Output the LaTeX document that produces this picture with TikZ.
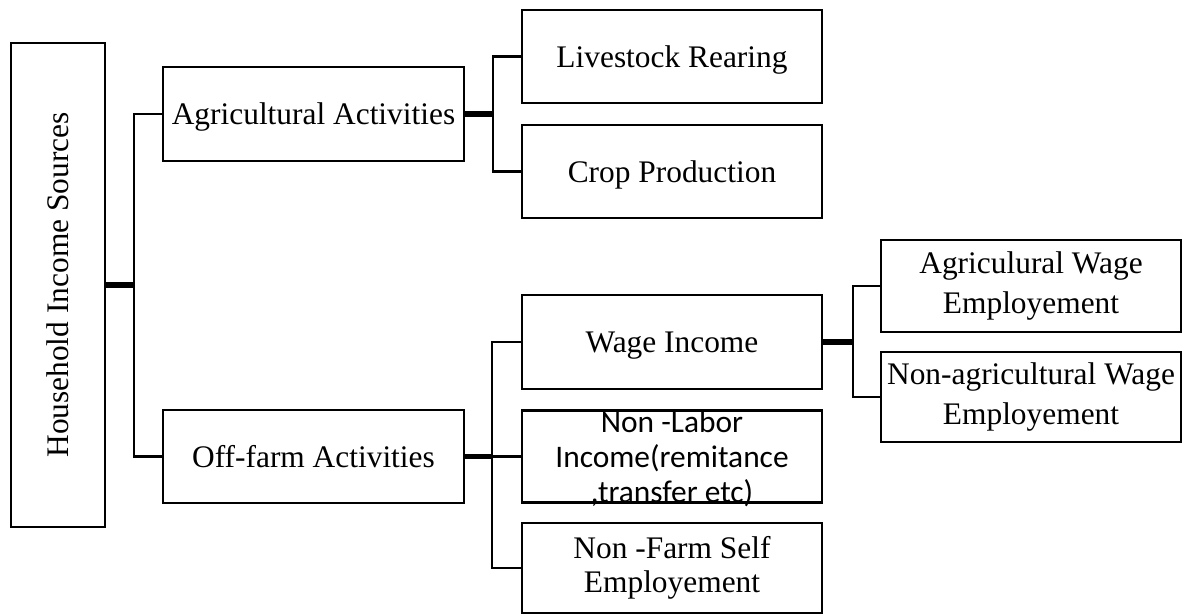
\documentclass[tikz,border=0pt]{standalone}
\usepackage{fontspec}
\setmainfont{Liberation Serif}
\newfontfamily\calfont{Carlito}
\begin{document}
\begin{tikzpicture}[x=0.5pt,y=-0.5pt,
  box/.style={draw=black,line width=1.4pt,inner sep=0pt,align=center,
    font=\fontsize{15.7}{18}\selectfont},
  oneline/.style={text depth=0pt},
  wide/.style={font=\fontsize{15.7}{20}\selectfont},
  tight/.style={font=\fontsize{15.7}{17}\selectfont},
  thin/.style={line width=1.1pt,black},
  thick/.style={line width=2.6pt,black}]
\useasboundingbox (0,0) rectangle (1186,615);
% boxes
\node[box,minimum width=47pt,minimum height=242pt] (root) at (58,285) {};
\node[rotate=90,font=\fontsize{15.7}{18}\selectfont] (roottxt) at (root.center) {Household Income Sources};
\node[box,oneline,minimum width=150.5pt,minimum height=47pt] (agri) at (313.5,114) {Agricultural Activities};
\node[box,oneline,minimum width=150.5pt,minimum height=46.5pt] (off) at (313.5,456.5) {Off-farm Activities};
\node[box,oneline,minimum width=150pt,minimum height=46.5pt] (live) at (672,56.5) {Livestock Rearing};
\node[box,oneline,minimum width=150pt,minimum height=46.5pt] (crop) at (672,171.5) {Crop Production};
\node[box,oneline,minimum width=150pt,minimum height=47pt] (wage) at (672,342) {Wage Income};
\node[box,minimum width=150pt,minimum height=46pt] (nonlab) at (672,456.5) {};
\node[font=\calfont\fontsize{15.7}{17.5}\selectfont,align=center,inner sep=0pt] (nonlabtxt) at (672,458.5) {Non -Labor\\Income(remitance\\,transfer etc)};
\node[box,tight,minimum width=150pt,minimum height=45pt] (nonfarm) at (672,568) {Non -Farm Self\\Employement};
\node[box,wide,minimum width=150pt,minimum height=46pt] (agw) at (1031,286) {Agriculural Wage\\Employement};
\node[box,wide,minimum width=150pt,minimum height=45pt] (nagw) at (1031,397) {Non-agricultural Wage\\Employement};
% junctions
\coordinate (j1) at (134,285);
\coordinate (j2) at (493,114);
\coordinate (j3) at (492,456.5);
\coordinate (j4) at (853,342);
% connectors
\draw[thick] (root.east) -- (j1);
\draw[thin] (agri.west) -| (j1) |- (off.west);
\draw[thick] (agri.east) -- (j2);
\draw[thin] (live.west) -| (j2) |- (crop.west);
\draw[thick] (off.east) -- (j3);
\draw[thin] (wage.west) -| (j3) |- (nonfarm.west);
\draw[thin] (j3) -- (nonlab.west);
\draw[thick] (wage.east) -- (j4);
\draw[thin] (agw.west) -| (j4) |- (nagw.west);
\end{tikzpicture}
\end{document}
